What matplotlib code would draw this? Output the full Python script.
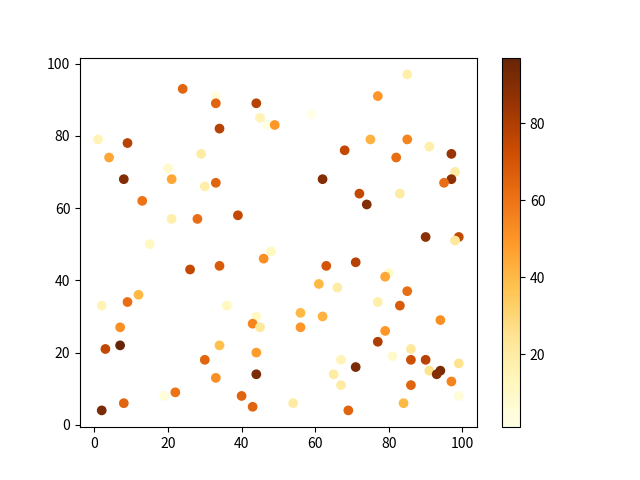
import matplotlib
matplotlib.use("Agg")
import matplotlib.pyplot as plt

plt.rcParams['font.family'] = ['Noto Sans CJK SC', 'DejaVu Sans']

x_vals = [24, 33, 33, 44, 45, 47, 49, 34, 1, 9, 4, 29, 20, 8, 21, 30, 33, 13, 21, 28,
          39, 15, 48, 85, 77, 59, 75, 85, 91, 68, 97, 82, 98, 97, 95, 62, 72, 74, 83, 90,
          99, 98, 46, 26, 34, 12, 9, 2, 36, 44, 43, 45, 7, 7, 3, 34, 44, 30, 44, 33,
          22, 19, 40, 43, 8, 2, 63, 71, 80, 79, 61, 66, 85, 77, 83, 56, 62, 94, 56, 79,
          77, 86, 81, 67, 86, 90, 99, 71, 91, 94, 93, 65, 97, 67, 86, 99, 54, 84, 69]
y_vals = [93, 91, 89, 89, 85, 83, 83, 82, 79, 78, 74, 75, 71, 68, 68, 66, 67, 62, 57, 57,
          58, 50, 48, 97, 91, 86, 79, 79, 77, 76, 75, 74, 70, 68, 67, 68, 64, 61, 64, 52,
          52, 51, 46, 43, 44, 36, 34, 33, 33, 30, 28, 27, 27, 22, 21, 22, 20, 18, 14, 13,
          9, 8, 8, 5, 6, 4, 44, 45, 42, 41, 39, 38, 37, 34, 33, 31, 30, 29, 27, 26,
          23, 21, 19, 18, 18, 18, 17, 16, 15, 15, 14, 14, 12, 11, 11, 8, 6, 6, 4]
c_vals = [65, 4, 65, 78, 15, 3, 50, 78, 15, 78, 45, 20, 8, 90, 45, 18, 65, 60, 18, 62,
          75, 12, 12, 18, 50, 1, 42, 55, 18, 75, 85, 62, 20, 88, 62, 90, 75, 90, 20, 88,
          75, 22, 52, 75, 68, 40, 62, 15, 12, 10, 55, 22, 52, 97, 75, 38, 48, 65, 92, 52,
          60, 5, 65, 65, 65, 92, 70, 78, 10, 45, 40, 20, 62, 18, 68, 40, 42, 52, 50, 50,
          80, 22, 8, 15, 72, 78, 25, 92, 25, 92, 90, 20, 55, 20, 65, 5, 20, 40, 65]

fig, ax = plt.subplots(figsize=(6.4, 4.8), dpi=100)
sc = ax.scatter(x_vals, y_vals, c=c_vals, cmap='YlOrBr')
fig.colorbar(sc)
fig.savefig("out.png")
